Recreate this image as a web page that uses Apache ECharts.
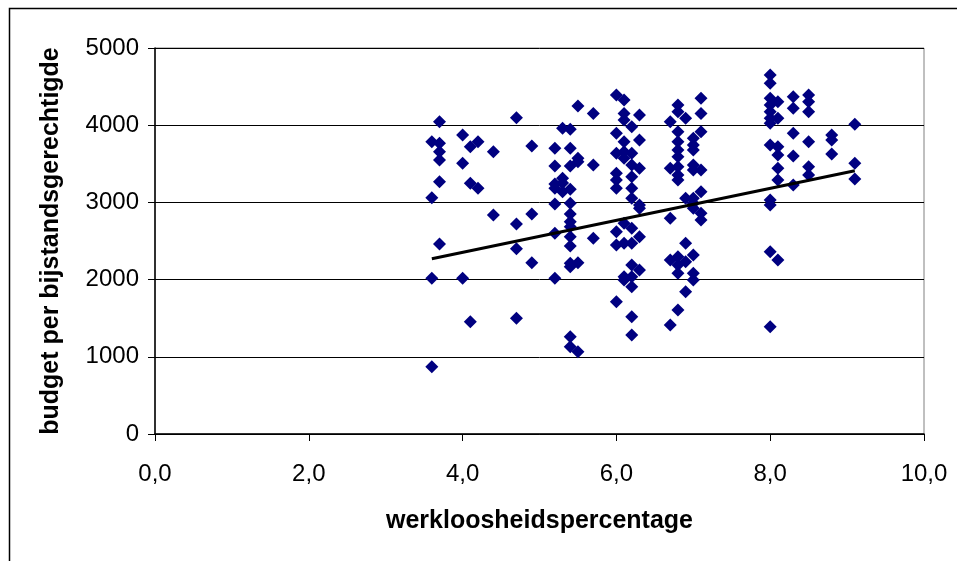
<!DOCTYPE html>
<html>
<head>
<meta charset="utf-8">
<script src="https://cdn.jsdelivr.net/npm/echarts@6/dist/echarts.min.js"></script>
<style>
html,body{margin:0;padding:0;background:#fff;}
#chart{width:957px;height:561px;}
</style>
</head>
<body>
<div id="chart"></div>
<script>
// column x values repeated for each point (werkloosheidspercentage)
const unemployment = [
  3.6,3.6,3.6,3.6,
  3.7,3.7,3.7,3.7,3.7,3.7,
  4.0,4.0,4.0,
  4.1,4.1,4.1,
  4.2,4.2,
  4.4,4.4,
  4.7,4.7,4.7,4.7,
  4.9,4.9,4.9,
  5.2,5.2,5.2,5.2,5.2,5.2,5.2,
  5.3,5.3,5.3,5.3,
  5.4,5.4,5.4,5.4,5.4,5.4,5.4,5.4,5.4,5.4,5.4,5.4,5.4,5.4,
  5.5,5.5,5.5,5.5,5.5,
  5.7,5.7,5.7,
  6.0,6.0,6.0,6.0,6.0,6.0,6.0,6.0,6.0,
  6.1,6.1,6.1,6.1,6.1,6.1,6.1,6.1,6.1,6.1,
  6.2,6.2,6.2,6.2,6.2,6.2,6.2,6.2,6.2,6.2,6.2,6.2,6.2,
  6.3,6.3,6.3,6.3,6.3,6.3,6.3,
  6.7,6.7,6.7,6.7,6.7,
  6.8,6.8,6.8,6.8,6.8,6.8,6.8,6.8,6.8,6.8,6.8,6.8,6.8,
  6.9,6.9,6.9,6.9,6.9,
  7.0,7.0,7.0,7.0,7.0,7.0,7.0,7.0,7.0,7.0,7.0,
  7.1,7.1,7.1,7.1,7.1,7.1,7.1,
  8.0,8.0,8.0,8.0,8.0,8.0,8.0,8.0,8.0,8.0,8.0,8.0,
  8.1,8.1,8.1,8.1,8.1,8.1,8.1,
  8.3,8.3,8.3,8.3,8.3,
  8.5,8.5,8.5,8.5,8.5,8.5,
  8.8,8.8,8.8,
  9.1,9.1,9.1
];
// budget per bijstandsgerechtigde, same order
const budget = [
  3786,3060,2017,872,
  4046,3765,3657,3549,3268,2461,
  3873,3506,2017,
  3722,3247,1455,
  3786,3182,
  3657,2837,
  4095,2720,2400,1498,
  3731,2850,2219,
  3700,3472,3238,3182,2979,2600,2017,
  3960,3312,3139,3250,
  3946,3700,3472,3169,2988,2850,2750,2686,2556,2435,2211,2167,1260,1131,
  4249,3571,3527,2219,1066,
  4153,3484,2535,
  4391,3895,3636,3377,3290,3182,2620,2448,1714,
  4326,4153,4067,3786,3657,3571,2729,2470,2038,1995,
  3981,3636,3484,3333,3182,3053,2664,2470,2189,2038,1908,1520,1282,
  4132,3808,3441,2966,2923,2556,2124,
  4046,3441,2794,2254,1412,
  4262,4175,3916,3786,3679,3592,3463,3355,3290,2297,2189,2082,1606,
  4089,3053,2470,2232,1843,
  3830,3744,3679,3484,3420,3053,2988,2923,2318,2082,1995,
  4348,4153,3916,3420,3139,2859,2772,
  4650,4543,4348,4262,4175,4089,4024,3744,3031,2966,2361,1390,
  4305,4089,3722,3614,3441,3290,2254,
  4369,4219,3895,3601,3225,
  4391,4305,4175,3786,3463,3355,
  3873,3808,3627,
  4011,3506,3303
];
// linear trend line end points
const trendX = [3.6, 9.1];
const trendY = [2270, 3410];

const xTicks = {min: 0, max: 10, interval: 2};
const yTicks = {min: 0, max: 5000, interval: 1000};

const scatterData = unemployment.map((x, i) => [x, budget[i]]);
const trendData = trendX.map((x, i) => [x, trendY[i]]);

const font = 'Liberation Sans, Arial, sans-serif';
const chart = echarts.init(document.getElementById('chart'), null, {renderer: 'canvas'});
chart.setOption({
  animation: false,
  backgroundColor: '#fff',
  graphic: [{
    type: 'rect', left: 7, top: 6, z: 100, silent: true,
    shape: {width: 980, height: 620},
    style: {fill: 'none', stroke: '#000', lineWidth: 1.5}
  }],
  grid: {
    left: 155, right: 33, top: 48, bottom: 127,
    show: true, borderColor: '#808080', borderWidth: 1, backgroundColor: '#fff'
  },
  xAxis: {
    type: 'value', min: xTicks.min, max: xTicks.max, interval: xTicks.interval,
    name: 'werkloosheidspercentage', nameLocation: 'middle', nameGap: 75,
    nameTextStyle: {fontFamily: font, fontSize: 25, fontWeight: 'bold', color: '#000'},
    axisLine: {show: true, onZero: false, lineStyle: {color: '#000', width: 1.5}},
    axisTick: {show: true, inside: false, length: 7, lineStyle: {color: '#000'}},
    axisLabel: {fontFamily: font, fontSize: 24, color: '#000', margin: 28,
      formatter: v => v.toFixed(1).replace('.', ',')},
    splitLine: {show: false}
  },
  yAxis: {
    type: 'value', min: yTicks.min, max: yTicks.max, interval: yTicks.interval,
    name: 'budget per bijstandsgerechtigde', nameLocation: 'middle', nameGap: 91,
    nameTextStyle: {fontFamily: font, fontSize: 25, fontWeight: 'bold', color: '#000'},
    axisLine: {show: true, lineStyle: {color: '#000', width: 1.5}},
    axisTick: {show: true, inside: false, length: 7, lineStyle: {color: '#000'}},
    axisLabel: {fontFamily: font, fontSize: 24, color: '#000', margin: 16,
      formatter: v => String(v)},
    splitLine: {show: true, lineStyle: {color: '#000', width: 1}}
  },
  series: [
    {
      type: 'scatter', data: scatterData, symbol: 'diamond', symbolSize: [13, 13],
      itemStyle: {color: '#000080', opacity: 1}, z: 3
    },
    {
      type: 'line', data: trendData, showSymbol: false, symbol: 'none',
      lineStyle: {color: '#000', width: 3}, z: 4
    }
  ]
});
</script>
</body>
</html>
